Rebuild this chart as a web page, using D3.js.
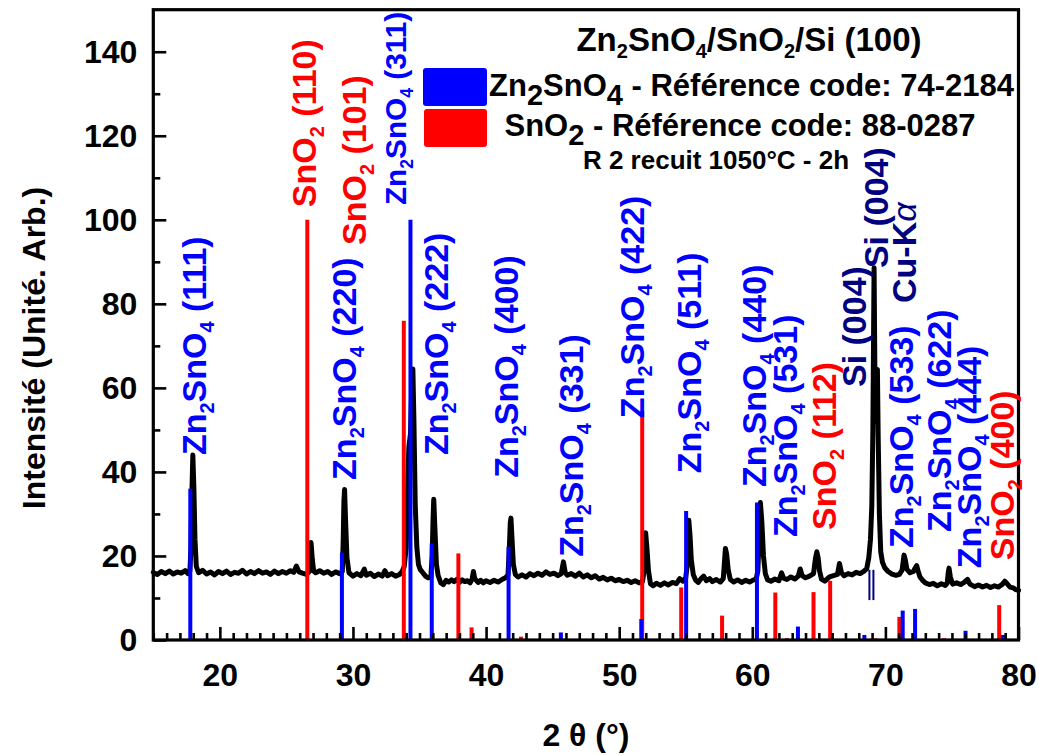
<!DOCTYPE html>
<html><head><meta charset="utf-8">
<script src="https://cdn.jsdelivr.net/npm/d3@7"></script>
<style>
body{margin:0;background:#fff}
svg{display:block}
text{font-family:"Liberation Sans",Arial,sans-serif;font-weight:bold}
</style>
</head><body>
<svg id="chart" width="1039" height="755"></svg>
<script>
// ---------- data ----------
const xrdCurve = [
[15.0,16.1],[15.3,15.6],[15.6,16.3],[15.9,15.8],[16.2,16.4],[16.5,15.7],[16.8,16.2],[17.1,15.9],[17.4,16.5],[17.6,15.8],
[17.75,16.4],[17.83,22],[17.9,35],[17.97,44],[18.05,36],[18.13,24],[18.23,17.5],[18.4,16],[18.7,16.6],[19.0,15.7],
[19.3,16.2],[19.6,15.5],[19.9,16.3],[20.2,15.8],[20.5,16.4],[20.8,15.6],[21.1,16.1],[21.4,15.9],[21.7,16.6],[22.0,15.7],
[22.3,16.3],[22.6,15.8],[22.9,16.5],[23.2,15.9],[23.5,16.2],[23.8,15.6],[24.1,16.4],[24.4,15.8],[24.7,16.3],[25.0,15.9],
[25.3,16.5],[25.55,16.1],[25.75,17.6],[25.95,16.2],[26.2,15.9],[26.5,15.6],[26.7,16.2],[26.78,20],[26.85,23.2],[26.95,19],
[27.05,16.4],[27.2,16.0],[27.5,16.5],[27.8,15.9],[28.1,16.3],[28.4,15.6],[28.7,16.2],[29.0,15.8],[29.2,16.3],[29.27,24],
[29.32,33],[29.37,35.8],[29.45,28],[29.55,19.5],[29.7,16],[30.0,15.2],[30.3,15.8],[30.6,15.3],[30.85,16.9],[31.0,15.4],
[31.3,15.9],[31.6,15.1],[31.9,15.7],[32.2,15.2],[32.4,16.5],[32.6,15.3],[32.9,15.8],[33.2,15.2],[33.5,15.6],[33.7,16.3],
[33.85,17.5],[34.0,22],[34.1,35],[34.2,46],[34.32,49],[34.42,60],[34.5,64.5],[34.58,52],[34.68,32],[34.8,22],
[34.92,18],[35.05,16.8],[35.25,16.0],[35.45,15.2],[35.65,14.8],[35.85,14.9],[35.95,20],[36.02,29],[36.07,33.5],[36.15,27],
[36.27,18],[36.4,15.3],[36.6,13.6],[36.8,13.2],[37.0,14.2],[37.2,13.8],[37.4,14.3],[37.6,13.9],[37.8,14.4],[38.0,13.7],
[38.2,14.3],[38.4,13.9],[38.6,14.1],[38.8,13.6],[38.95,14.5],[39.05,16.3],[39.15,14.6],[39.4,13.7],[39.6,14.2],[39.8,13.6],
[40.0,14.1],[40.3,13.7],[40.6,14.2],[40.9,13.8],[41.2,14.4],[41.45,14.8],[41.65,15.5],[41.75,22],[41.82,28],[41.87,29],
[41.95,24],[42.05,18],[42.2,15.6],[42.4,15.0],[42.7,15.5],[43.0,15.0],[43.3,15.8],[43.6,15.3],[43.9,15.9],[44.2,15.4],
[44.5,16.2],[44.8,15.6],[45.1,15.9],[45.4,15.3],[45.65,15.8],[45.81,18.6],[45.95,16.0],[46.1,15.4],[46.4,15.8],[46.7,15.2],
[47.0,15.9],[47.3,15.0],[47.6,15.5],[47.9,14.8],[48.2,15.3],[48.5,14.5],[48.8,14.9],[49.1,14.3],[49.4,14.7],[49.7,14.1],
[50.0,14.4],[50.3,13.9],[50.6,14.2],[50.9,13.7],[51.2,14.1],[51.5,13.6],[51.75,13.9],[51.85,16],[51.93,22],[51.99,25.5],
[52.08,22],[52.2,16.5],[52.35,13.4],[52.55,12.9],[52.8,13.5],[53.1,13.0],[53.4,13.6],[53.7,13.1],[54.0,13.7],[54.3,13.4],
[54.55,14.6],[54.8,14.0],[55.0,14.8],[55.1,17.5],[55.17,24],[55.23,28.5],[55.32,25],[55.42,19],[55.57,15.5],[55.75,14.2],
[55.95,13.7],[56.15,14.6],[56.35,15.2],[56.55,14.1],[56.8,14.6],[57.0,13.9],[57.3,14.4],[57.6,13.8],[57.82,14.6],[57.91,18.5],
[57.98,21.8],[58.07,20.5],[58.2,16.5],[58.35,14.4],[58.6,13.8],[58.9,14.3],[59.2,13.7],[59.5,14.2],[59.8,13.8],[60.1,14.3],
[60.3,14.6],[60.42,16.5],[60.52,25],[60.61,32.7],[60.72,28],[60.84,20],[60.98,15.8],[61.15,14.3],[61.4,14.0],[61.7,14.5],
[62.0,14.1],[62.2,16.0],[62.35,14.7],[62.6,14.4],[62.9,15.0],[63.2,14.5],[63.45,15.2],[63.6,16.9],[63.75,15.3],[64.0,14.8],
[64.3,15.2],[64.6,15.8],[64.75,19.5],[64.85,21.0],[64.95,19.5],[65.05,16.5],[65.2,14.5],[65.45,14.0],[65.8,15.0],[66.1,15.3],
[66.4,15.6],[66.55,18.2],[66.7,16.0],[66.9,15.3],[67.2,15.8],[67.5,15.5],[67.8,16.1],[68.1,15.8],[68.4,16.4],[68.6,17.0],
[68.75,19.5],[68.88,24],[68.98,32],[69.06,50],[69.11,72],[69.15,88.6],[69.22,60],[69.3,52],[69.36,62],[69.4,64.4],
[69.46,48],[69.55,30],[69.65,21],[69.78,18.5],[69.95,17.2],[70.2,16.3],[70.5,15.7],[70.8,15.4],[71.05,15.6],[71.25,16.6],
[71.33,18.5],[71.4,20.2],[71.5,19],[71.62,16.8],[71.85,16.0],[72.1,16.3],[72.25,17.2],[72.35,17.7],[72.45,16.5],[72.6,15.0],
[72.8,14.2],[73.0,13.6],[73.3,13.2],[73.6,13.5],[73.9,12.9],[74.2,13.4],[74.5,13.0],[74.65,13.6],[74.72,16.0],[74.78,17.1],
[74.88,15.0],[75.05,13.3],[75.35,13.6],[75.65,13.2],[75.95,13.8],[76.17,14.4],[76.35,13.3],[76.7,12.7],[77.0,13.1],[77.3,12.6],
[77.6,13.0],[77.9,12.5],[78.2,12.9],[78.5,12.6],[78.8,13.3],[78.97,14.0],[79.15,13.4],[79.35,12.6],[79.6,12.4],[79.8,12.0],
[80.0,11.8]
];
// reference patterns [2theta, relative intensity]
const zn2sno4Refs = [[17.78,36.0],[29.17,20.8],[34.32,100],[35.92,23.0],[41.69,22.2],[45.62,1.8],[51.66,5.0],[55.03,30.7],
  [60.35,32.7],[63.43,3.2],[68.42,1.2],[71.3,7.0],[72.23,7.4],[76.02,2.2],[78.84,1.2]];
const sno2Refs = [[26.57,100],[33.82,76],[37.92,20.6],[38.91,3.0],[42.62,0.8],[51.73,54.5],[54.66,12.5],[57.73,5.8],
  [61.73,11.3],[62.6,0.4],[64.6,11.4],[65.85,14.1],[69.25,0.4],[71.05,5.5],[74.4,0.4],[78.55,8.3]];
const siMarks = [68.8, 69.1];
const siMarkRange = [9.5, 16.7];
// peak annotations: text ("_" = subscript digit), 2theta, intensity at text start, phase
const peakLabels = [
  ["Zn_2SnO_4 (111)",18.13,44.0,"zn"],
  ["SnO_2 (110)",26.40,103.0,"sn"],
  ["SnO_2 (101)",30.15,94.0,"sn"],
  ["Zn_2SnO_4 (311)",33.16,103.5,"zn"],
  ["Zn_2SnO_4 (220)",29.40,38.1,"zn"],
  ["Zn_2SnO_4 (222)",36.31,44.0,"zn"],
  ["Zn_2SnO_4 (400)",41.57,38.6,"zn"],
  ["Zn_2SnO_4 (331)",46.46,19.8,"zn"],
  ["Zn_2SnO_4 (422)",51.05,52.8,"zn"],
  ["Zn_2SnO_4 (511)",55.33,39.7,"zn"],
  ["Zn_2SnO_4 (440)",60.20,36.4,"zn"],
  ["Zn_2SnO_4 (531)",62.53,24.5,"zn"],
  ["SnO_2 (112)",65.46,26.2,"sn"],
  ["Si (004)",67.72,60.2,"si"],
  ["Si (004)",69.37,88.5,"si"],
  ["Cu-Kα",71.47,80.2,"si"],
  ["Zn_2SnO_4 (533)",71.25,21.9,"zn"],
  ["Zn_2SnO_4 (622)",74.11,25.7,"zn"],
  ["Zn_2SnO_4 (444)",76.36,17.1,"zn"],
  ["SnO_2 (400)",78.84,19.0,"sn"]
];
const xTicks = [20,30,40,50,60,70,80];
const yTicks = [0,20,40,60,80,100,120,140];
const titleText = "Zn_2SnO_4/SnO_2/Si (100)";
const legendItems = [["Zn_2SnO_4 - Référence code: 74-2184","zn"],["SnO_2 - Référence code: 88-0287","sn"]];
const noteText = "R 2 recuit 1050°C - 2h";
const xTitle = "2 θ (°)";
const yTitle = "Intensité (Unité. Arb.)";

// ---------- drawing ----------
const colors = {zn:"#0000ff", sn:"#ff0000", si:"#000080"};
const svg = d3.select("#chart");
const L = 153.3, R = 1018.5, T = 9.7, B = 640;
const x = d3.scaleLinear().domain([15,80]).range([L,R]);
const y = d3.scaleLinear().domain([0,150]).range([B,T]);

function rich(textSel, str, subSize, subShift){
  const parts = str.split(/_(\d)/);
  let shift = 0;
  parts.forEach((p,i)=>{
    if(p==="") return;
    const ts = textSel.append("tspan").text(p);
    if(i%2===1){ ts.attr("font-size",subSize).attr("dy",subShift-shift); shift=subShift; }
    else if(shift){ ts.attr("dy",-shift); shift=0; }
  });
}

// curve
svg.append("path").datum(xrdCurve)
  .attr("fill","none").attr("stroke","#000").attr("stroke-width",5)
  .attr("stroke-linejoin","round").attr("stroke-linecap","round")
  .attr("d", d3.line().x(d=>x(d[0])).y(d=>y(d[1])));

// reference sticks
function sticks(data,color){
  svg.append("g").selectAll("line").data(data).join("line")
    .attr("x1",d=>x(d[0])).attr("x2",d=>x(d[0]))
    .attr("y1",y(0)).attr("y2",d=>y(d[1]))
    .attr("stroke",color).attr("stroke-width",4);
}
sticks(sno2Refs,colors.sn);
sticks(zn2sno4Refs,colors.zn);

// Si marks
svg.append("g").selectAll("line").data(siMarks).join("line")
  .attr("x1",d=>x(d)).attr("x2",d=>x(d))
  .attr("y1",y(siMarkRange[0])).attr("y2",y(siMarkRange[1]))
  .attr("stroke",colors.si).attr("stroke-width",2);

// axes
const minorX = d3.range(15,81,1).filter(v=>v%10!==0);
const minorY = d3.range(10,150,20);
const gx = svg.append("g").attr("transform",`translate(0,${B})`);
gx.call(d3.axisBottom(x).tickValues(xTicks).tickSizeInner(-13).tickSizeOuter(0).tickPadding(23).tickFormat(d3.format("d")));
const gxm = svg.append("g").attr("transform",`translate(0,${B})`);
gxm.call(d3.axisBottom(x).tickValues(minorX).tickSizeInner(-7).tickSizeOuter(0).tickFormat(""));
const gy = svg.append("g").attr("transform",`translate(${L},0)`);
gy.call(d3.axisLeft(y).tickValues(yTicks).tickSizeInner(-13).tickSizeOuter(0).tickPadding(16).tickFormat(d3.format("d")));
const gym = svg.append("g").attr("transform",`translate(${L},0)`);
gym.call(d3.axisLeft(y).tickValues(minorY).tickSizeInner(-7).tickSizeOuter(0).tickFormat(""));
svg.selectAll(".domain").remove();
svg.selectAll(".tick line").attr("stroke","#000").attr("stroke-width",2.6);
svg.selectAll(".tick text").attr("font-size",32).attr("font-family",null).attr("fill","#000");
gy.selectAll(".tick text").attr("dy","0.33em");

svg.append("rect").attr("x",L).attr("y",T).attr("width",R-L).attr("height",B-T)
  .attr("fill","none").attr("stroke","#000").attr("stroke-width",3.2);

// axis titles
svg.append("text").attr("x",(L+R)/2).attr("y",746).attr("text-anchor","middle")
  .attr("font-size",32).text(xTitle);
svg.append("text").attr("transform","translate(45,348) rotate(-90)").attr("text-anchor","middle")
  .attr("font-size",32).text(yTitle);

// peak labels
peakLabels.forEach(([s,t,v,ph])=>{
  const tx = svg.append("text")
    .attr("transform",`translate(${x(t)+11},${y(v)}) rotate(-90)`)
    .attr("font-size",34).attr("fill",colors[ph]);
  if(s.includes("α")){
    tx.append("tspan").text(s.replace("α",""));
    tx.append("tspan").text("α").attr("font-style","italic").attr("font-weight","normal");
  } else rich(tx,s,20,8);
  // keep the label inside the frame: shrink if it would run past the top edge
  const len = tx.node().getComputedTextLength();
  const room = y(v) - T - 2;
  if(len > room){
    const k = room/len;
    tx.attr("font-size",34*k);
    tx.selectAll("tspan").each(function(){
      const el = d3.select(this);
      if(el.attr("font-size")) el.attr("font-size",20*k);
      if(el.attr("dy")) el.attr("dy",+el.attr("dy")*k);
    });
  }
});

// title / legend
const tt = svg.append("text").attr("x",749).attr("y",51).attr("text-anchor","middle").attr("font-size",33);
rich(tt,titleText,20,7);
svg.append("rect").attr("x",423).attr("y",68).attr("width",64).attr("height",38).attr("rx",3).attr("fill",colors.zn);
svg.append("rect").attr("x",424).attr("y",109).attr("width",63).attr("height",38).attr("rx",3).attr("fill",colors.sn);
const l1 = svg.append("text").attr("x",489).attr("y",96).attr("font-size",31);
rich(l1,legendItems[0][0],29,9);
const l2 = svg.append("text").attr("x",740).attr("y",136).attr("text-anchor","middle").attr("font-size",31);
rich(l2,legendItems[1][0],29,9);
svg.append("text").attr("x",716).attr("y",169).attr("text-anchor","middle").attr("font-size",26).text(noteText);
</script>
</body></html>
